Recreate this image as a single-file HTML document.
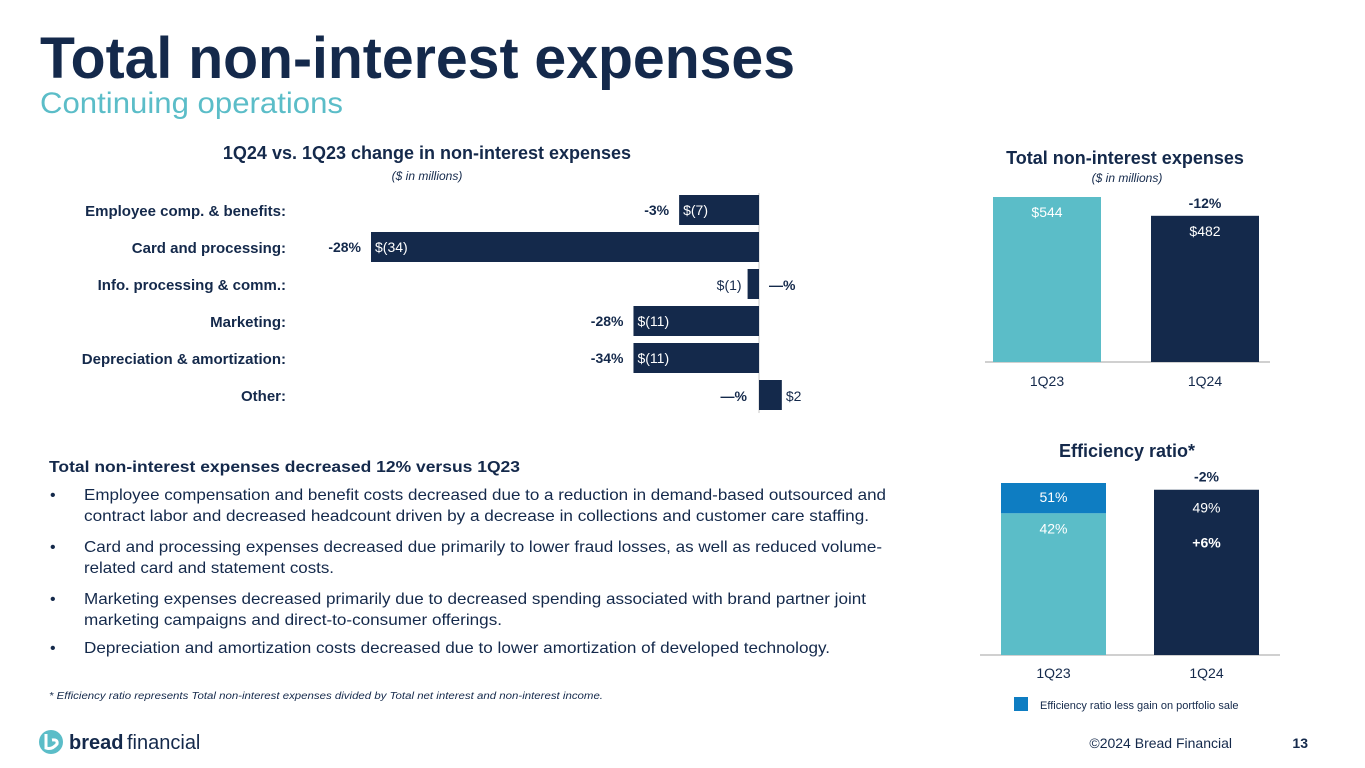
<!DOCTYPE html>
<html><head><meta charset="utf-8">
<style>
html,body{margin:0;padding:0;background:#fff;}
svg{display:block;font-family:"Liberation Sans",Arial,sans-serif;}
</style></head>
<body>
<svg id="s" width="1365" height="768" viewBox="0 0 1365 768" xmlns="http://www.w3.org/2000/svg">
<text x="40" y="78" font-size="58" font-weight="bold" fill="#14294b" textLength="755" lengthAdjust="spacingAndGlyphs">Total non-interest expenses</text>
<text x="40" y="113" font-size="30" fill="#5bbdc8" textLength="303" lengthAdjust="spacingAndGlyphs">Continuing operations</text>

<text x="427" y="159" font-size="18" font-weight="bold" fill="#14294b" text-anchor="middle">1Q24 vs. 1Q23 change in non-interest expenses</text>
<text x="427" y="180" font-size="12" font-style="italic" fill="#14294b" text-anchor="middle">($ in millions)</text>
<g id="hbars"></g>

<text x="1125" y="164" font-size="18" font-weight="bold" fill="#14294b" text-anchor="middle">Total non-interest expenses</text>
<text x="1127" y="182" font-size="12" font-style="italic" fill="#14294b" text-anchor="middle">($ in millions)</text>
<g id="tbars"></g>

<text x="1127" y="457" font-size="18" font-weight="bold" fill="#14294b" text-anchor="middle">Efficiency ratio*</text>
<g id="ebars"></g>
<rect x="1014" y="697" width="14" height="14" fill="#0e7dc2"/>
<text x="1040" y="709" font-size="11" fill="#14294b">Efficiency ratio less gain on portfolio sale</text>

<g fill="#14294b" font-size="16">
<text x="49" y="472" font-weight="bold" textLength="471" lengthAdjust="spacingAndGlyphs">Total non-interest expenses decreased 12% versus 1Q23</text>
<text x="50" y="500">•</text>
<text x="84" y="500" textLength="802" lengthAdjust="spacingAndGlyphs">Employee compensation and benefit costs decreased due to a reduction in demand-based outsourced and</text>
<text x="84" y="521" textLength="785" lengthAdjust="spacingAndGlyphs">contract labor and decreased headcount driven by a decrease in collections and customer care staffing.</text>
<text x="50" y="552">•</text>
<text x="84" y="552" textLength="798" lengthAdjust="spacingAndGlyphs">Card and processing expenses decreased due primarily to lower fraud losses, as well as reduced volume-</text>
<text x="84" y="573" textLength="250" lengthAdjust="spacingAndGlyphs">related card and statement costs.</text>
<text x="50" y="604">•</text>
<text x="84" y="604" textLength="782" lengthAdjust="spacingAndGlyphs">Marketing expenses decreased primarily due to decreased spending associated with brand partner joint</text>
<text x="84" y="625" textLength="418" lengthAdjust="spacingAndGlyphs">marketing campaigns and direct-to-consumer offerings.</text>
<text x="50" y="653">•</text>
<text x="84" y="653" textLength="746" lengthAdjust="spacingAndGlyphs">Depreciation and amortization costs decreased due to lower amortization of developed technology.</text>
</g>
<text x="49" y="699" font-size="10" font-style="italic" fill="#14294b" textLength="554" lengthAdjust="spacingAndGlyphs">* Efficiency ratio represents Total non-interest expenses divided by Total net interest and non-interest income.</text>

<g>
<circle cx="51" cy="742" r="12" fill="#5bbdc8"/>
<path d="M46 734 L46 748 Q52 750 57 744 Q58 739 52 740" fill="none" stroke="#fff" stroke-width="3"/>
<text x="69" y="749" font-size="20" font-weight="bold" fill="#14294b">bread</text>
<text x="127" y="749" font-size="20" fill="#14294b">financial</text>
</g>
<text x="1232" y="748" font-size="14" fill="#14294b" text-anchor="end">©2024 Bread Financial</text>
<text x="1308" y="748" font-size="14" font-weight="bold" fill="#14294b" text-anchor="end">13</text>
</svg>
<script>
const changeCategories = ["Employee comp. & benefits:","Card and processing:","Info. processing & comm.:","Marketing:","Depreciation & amortization:","Other:"];
const changeValues = [-7,-34,-1,-11,-11,2];
const changeValueLabels = ["$(7)","$(34)","$(1)","$(11)","$(11)","$2"];
const changePctLabels = ["-3%","-28%","—%","-28%","-34%","—%"];
const totalCategories = ["1Q23","1Q24"];
const totalValues = [544,482];
const totalValueLabels = ["$544","$482"];
const totalChangeLabel = "-12%";
const effCategories = ["1Q23","1Q24"];
const effValues = [42,49];
const effLessGain = [51,null];
const effChangeLabels = ["-2%","+6%"];

const NS="http://www.w3.org/2000/svg";
function mk(parent,tag,attrs,txt){const e=document.createElementNS(NS,tag);for(const k in attrs)e.setAttribute(k,attrs[k]);if(txt!==undefined)e.textContent=txt;parent.appendChild(e);return e;}
const NAVY="#14294b",TEAL="#5bbdc8",BLUE="#0e7dc2";

// horizontal change chart
(function(){
  const g=document.getElementById('hbars');
  const x0=759, k=388/34;
  const xs=v=>x0+v*k;
  const yc=i=>210+i*37;
  const ax=mk(g,'line',{x1:x0,x2:x0,y1:193,y2:413,stroke:'#c8c8c8','stroke-width':1});
  
  
  changeCategories.forEach((c,i)=>{
    const v=changeValues[i],y=yc(i);
    const lab=mk(g,'text',{x:286,y:y+6,'font-size':15,'font-weight':'bold',fill:NAVY,'text-anchor':'end'},c);
    
    
    const xa=Math.min(xs(v),x0),w=Math.abs(xs(v)-x0);
    const r=mk(g,'rect',{x:xa,y:y-15,width:w,height:30,fill:NAVY});
    
    
    const big=w>40;
    let vl,pl;
    if(v<0&&big){
      vl=mk(g,'text',{x:xa+4,y:y+5,'font-size':14,fill:'#fff'},changeValueLabels[i]);
      pl=mk(g,'text',{x:xa-10,y:y+5,'font-size':14,'font-weight':'bold',fill:NAVY,'text-anchor':'end'},changePctLabels[i]);
    }else if(v<0){
      vl=mk(g,'text',{x:xa-6,y:y+6,'font-size':14,fill:NAVY,'text-anchor':'end'},changeValueLabels[i]);
      pl=mk(g,'text',{x:x0+10,y:y+6,'font-size':14,'font-weight':'bold',fill:NAVY},changePctLabels[i]);
    }else{
      vl=mk(g,'text',{x:xs(v)+4,y:y+6,'font-size':14,fill:NAVY},changeValueLabels[i]);
      pl=mk(g,'text',{x:x0-12,y:y+6,'font-size':14,'font-weight':'bold',fill:NAVY,'text-anchor':'end'},changePctLabels[i]);
    }
    
    
    
    
  });
})();

// total chart
(function(){
  const g=document.getElementById('tbars');
  const base=362,k=165/544,xl=[993,1151],bw=108;
  const ax=mk(g,'line',{x1:985,x2:1270,y1:base,y2:base,stroke:'#a0a0a0','stroke-width':1});
  
  
  totalCategories.forEach((c,i)=>{
    const h=totalValues[i]*k;
    const r=mk(g,'rect',{x:xl[i],y:base-h,width:bw,height:h,fill:i?NAVY:TEAL});
    
    
    const vl=mk(g,'text',{x:xl[i]+bw/2,y:base-h+20,'font-size':14,fill:'#fff','text-anchor':'middle'},totalValueLabels[i]);
    
    
    const cl=mk(g,'text',{x:xl[i]+bw/2,y:base+24,'font-size':14,fill:NAVY,'text-anchor':'middle'},c);
    
    
  });
  const h1=totalValues[1]*k;
  const t=mk(g,'text',{x:xl[1]+bw/2,y:base-h1-8,'font-size':14,'font-weight':'bold',fill:NAVY,'text-anchor':'middle'},totalChangeLabel);
  
  
})();

// efficiency chart
(function(){
  const g=document.getElementById('ebars');
  const base=655,k=172/51,xl=[1001,1154],bw=105;
  const ax=mk(g,'line',{x1:980,x2:1280,y1:base,y2:base,stroke:'#a0a0a0','stroke-width':1});
  
  
  effCategories.forEach((c,i)=>{
    const h=effValues[i]*k;
    if(effLessGain[i]!=null){
      const h2=effLessGain[i]*k;
      const r2=mk(g,'rect',{x:xl[i],y:base-h2,width:bw,height:h2-h,fill:BLUE});
      
      
      const l2=mk(g,'text',{x:xl[i]+bw/2,y:base-h2+19,'font-size':14,fill:'#fff','text-anchor':'middle'},effLessGain[i]+'%');
      
      
    }
    const r=mk(g,'rect',{x:xl[i],y:base-h,width:bw,height:h,fill:i?NAVY:TEAL});
    
    
    const vl=mk(g,'text',{x:xl[i]+bw/2,y:base-h+(i?23:20),'font-size':14,fill:'#fff','text-anchor':'middle'},effValues[i]+'%');
    
    
    const cl=mk(g,'text',{x:xl[i]+bw/2,y:base+23,'font-size':14,fill:NAVY,'text-anchor':'middle'},c);
    
    
  });
  const h1=effValues[1]*k;
  const t=mk(g,'text',{x:xl[1]+bw/2,y:base-h1-8,'font-size':14,'font-weight':'bold',fill:NAVY,'text-anchor':'middle'},effChangeLabels[0]);
  
  
  const t2=mk(g,'text',{x:xl[1]+bw/2,y:base-h1+58,'font-size':14,'font-weight':'bold',fill:'#fff','text-anchor':'middle'},effChangeLabels[1]);
  
  
})();
</script>
</body></html>
